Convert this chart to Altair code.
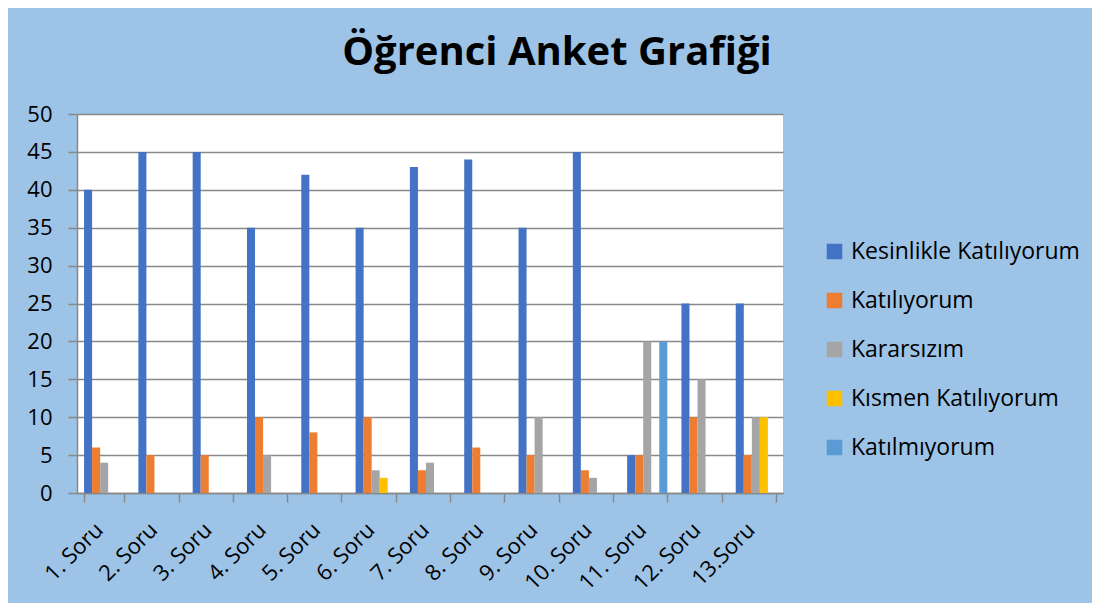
import altair as alt
import pandas as pd

categories = ["1. Soru", "2. Soru", "3. Soru", "4. Soru", "5. Soru", "6. Soru", "7. Soru",
              "8. Soru", "9. Soru", "10. Soru", "11. Soru", "12. Soru", "13.Soru"]
series_names = ["Kesinlikle Katılıyorum", "Katılıyorum", "Kararsızım",
                "Kısmen Katılıyorum", "Katılmıyorum"]
kesinlikle = [40, 45, 45, 35, 42, 35, 43, 44, 35, 45, 5, 25, 25]
katiliyorum = [6, 5, 5, 10, 8, 10, 3, 6, 5, 3, 5, 10, 5]
kararsizim = [4, 0, 0, 5, 0, 3, 4, 0, 10, 2, 20, 15, 10]
kismen = [0, 0, 0, 0, 0, 2, 0, 0, 0, 0, 0, 0, 10]
katilmiyorum = [0, 0, 0, 0, 0, 0, 0, 0, 0, 0, 20, 0, 0]
colors = ["#4472C4", "#ED7D31", "#A5A5A5", "#FFC000", "#5B9BD5"]
y_ticks = list(range(0, 51, 5))

rows = []
for name, vals in zip(series_names, [kesinlikle, katiliyorum, kararsizim, kismen, katilmiyorum]):
    for c, v in zip(categories, vals):
        rows.append({"Soru": c, "Seri": name, "Değer": v})
df = pd.DataFrame(rows)

FONT = "Open Sans"
GRID = "#898989"

chart = alt.Chart(df).mark_bar().encode(
    x=alt.X("Soru:N", sort=categories,
            scale=alt.Scale(paddingInner=0.26, paddingOuter=0.13),
            axis=alt.Axis(title=None, labelAngle=-45, labelAlign="right", labelBaseline="middle",
                          labelFontSize=22, labelFont=FONT, labelColor="black",
                          labelPadding=24, labelOffset=-5, tickBand="extent",
                          ticks=True, tickSize=9, tickColor=GRID, tickWidth=1.5,
                          domainColor=GRID, domainWidth=1.5, grid=False)),
    xOffset=alt.XOffset("Seri:N", sort=series_names,
                        scale=alt.Scale(domain=series_names, paddingInner=0, paddingOuter=0)),
    y=alt.Y("Değer:Q", scale=alt.Scale(domain=[0, 50], nice=False),
            axis=alt.Axis(title=None, values=y_ticks, labelFontSize=22, labelFont=FONT,
                          labelColor="black", labelPadding=16, tickSize=9, tickColor=GRID,
                          tickWidth=1.5, domainColor=GRID, domainWidth=1.5,
                          grid=True, gridColor=GRID, gridWidth=1.5)),
    color=alt.Color("Seri:N", sort=series_names,
                    scale=alt.Scale(domain=series_names, range=colors),
                    legend=alt.Legend(title=None, orient="none", legendX=746, legendY=126,
                                      symbolType="square", symbolSize=240, symbolStrokeWidth=0,
                                      labelFontSize=23, labelFont=FONT, labelColor="black",
                                      labelOffset=5, rowPadding=25, labelLimit=400)),
).properties(
    width=706,
    height=379,
    autosize=alt.AutoSizeParams(type="none"),
    padding={"left": 69, "top": 106, "right": 309, "bottom": 110},
    background="#9DC3E6",
    title=alt.TitleParams("Öğrenci Anket Grafiği", font=FONT, fontSize=40, fontWeight="bold",
                          color="black", anchor="middle", dx=127, offset=30),
).configure_view(fill="white", stroke=None)

chart.save("out.html", embed_options={"renderer": "svg", "actions": False})
